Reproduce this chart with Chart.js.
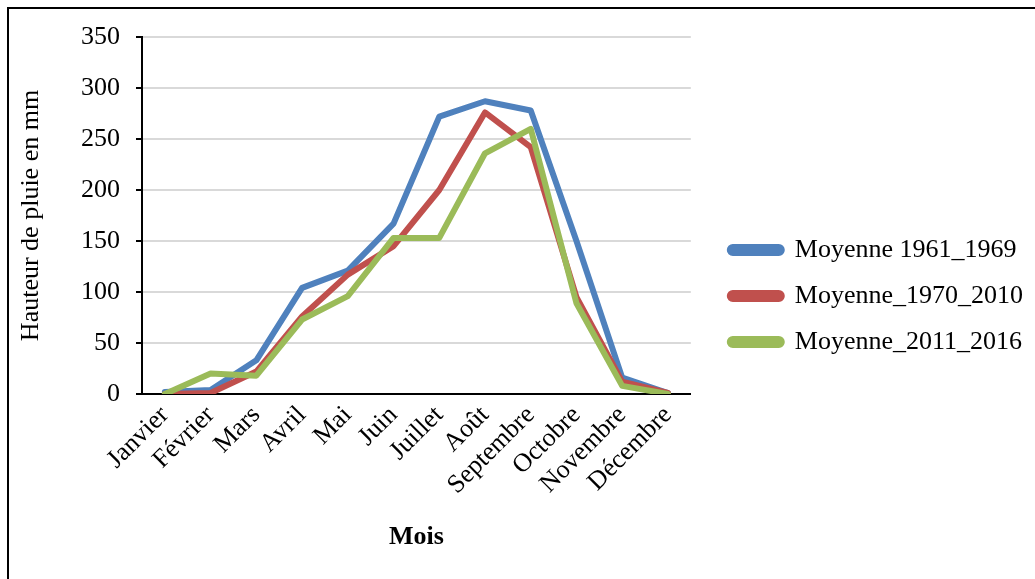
<!DOCTYPE html>
<html>
<head>
<meta charset="utf-8">
<script src="https://cdn.jsdelivr.net/npm/chart.js@4.4.1/dist/chart.umd.min.js"></script>
<style>
  html, body { margin: 0; padding: 0; background: #fff; overflow: hidden; width: 1035px; height: 579px; }
  #frame { position: absolute; left: 7px; top: 7px; width: 1100px; height: 700px; border: 2px solid #000; box-sizing: border-box; }
  #wrap { position: absolute; left: 0; top: 0; width: 1035px; height: 579px; }
</style>
</head>
<body>
<div id="frame"></div>
<div id="wrap"><canvas id="c" width="1035" height="579"></canvas></div>
<script>
const categories = ['Janvier', 'Février', 'Mars', 'Avril', 'Mai', 'Juin', 'Juillet', 'Août', 'Septembre', 'Octobre', 'Novembre', 'Décembre'];
const seriesNames = ['Moyenne 1961_1969', 'Moyenne_1970_2010', 'Moyenne_2011_2016'];
const moyenne1961_1969 = [2, 4, 33, 104, 121, 167, 272, 287, 278, 150, 16, 1];
const moyenne1970_2010 = [0, 1, 22, 76, 117, 145, 200, 276, 242, 95, 12, 1];
const moyenne2011_2016 = [0, 20, 18, 73, 96, 153, 153, 236, 260, 89, 8, 0];
const yTicks = [0, 50, 100, 150, 200, 250, 300, 350];

const FONT = "'Liberation Serif', 'Times New Roman', serif";
const COLORS = ['#4F81BD', '#C0504D', '#9BBB59'];

function ds(label, data, color, order) {
  return {
    label, data, order,
    borderColor: color, backgroundColor: color,
    borderWidth: 6, pointRadius: 0, pointHoverRadius: 0, tension: 0,
    borderJoinStyle: 'round', borderCapStyle: 'round', fill: false
  };
}

// let the legend take its natural width (Chart.js caps side boxes to a fraction of the canvas)
const legendWidthPlugin = {
  id: 'legendWidth',
  beforeLayout(chart) {
    const lg = chart.legend;
    if (lg && !lg._wrappedFit) {
      const orig = lg.fit;
      lg.fit = function () { this.maxWidth = 2000; orig.call(this); };
      lg._wrappedFit = true;
    }
  }
};

new Chart(document.getElementById('c'), {
  type: 'line',
  data: {
    labels: categories,
    datasets: [
      ds(seriesNames[0], moyenne1961_1969, COLORS[0], 2),
      ds(seriesNames[1], moyenne1970_2010, COLORS[1], 1),
      ds(seriesNames[2], moyenne2011_2016, COLORS[2], 0)
    ]
  },
  plugins: [legendWidthPlugin],
  options: {
    responsive: false,
    animation: false,
    devicePixelRatio: 1,
    layout: { padding: { left: 0, top: 13, right: 2, bottom: 0 } },
    plugins: {
      tooltip: { enabled: false },
      title: { display: true, text: ' ', fullSize: false, font: { size: 10, family: FONT }, padding: { top: 12, bottom: 0 } },
      legend: {
        position: 'right',
        align: 'center',
        labels: {
          font: { family: FONT, size: 26 },
          color: '#000',
          boxWidth: 52,
          boxHeight: 6,
          padding: 20,
          useBorderRadius: true,
          borderRadius: 3,
          sort: (a, b) => a.datasetIndex - b.datasetIndex
        }
      }
    },
    scales: {
      x: {
        offset: true,
        grid: { display: false, drawTicks: false },
        border: { display: true, color: '#000', width: 2 },
        ticks: { color: '#000', font: { family: FONT, size: 26 }, minRotation: 45, maxRotation: 45, autoSkip: false, padding: 6 },
        title: { display: true, text: 'Mois', color: '#000', font: { family: FONT, size: 26, weight: 'bold' }, padding: { top: 0, bottom: 26 } },
        afterFit: s => { s.height = 185; }
      },
      y: {
        min: 0, max: 350,
        afterBuildTicks: s => { s.ticks = yTicks.map(v => ({ value: v })); },
        grid: { color: '#d9d9d9', lineWidth: 2, drawTicks: true, tickLength: 6, tickColor: '#000', tickWidth: 2 },
        border: { display: true, color: '#000', width: 2 },
        ticks: { color: '#000', font: { family: FONT, size: 26 }, padding: 16 },
        title: { display: true, text: 'Hauteur de pluie en mm', color: '#000', font: { family: FONT, size: 26 }, padding: { top: 16, bottom: 0 } },
        afterFit: s => { s.width = 142; }
      },
      spacer: {
        type: 'linear', position: 'right', display: true,
        grid: { display: false, drawTicks: false }, border: { display: false },
        ticks: { display: false },
        afterFit: s => { s.width = 19; }
      }
    }
  }
});
</script>
</body>
</html>
